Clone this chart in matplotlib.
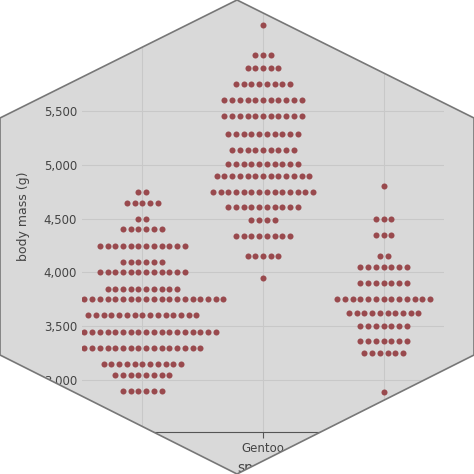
import matplotlib
matplotlib.use("Agg")
import matplotlib.pyplot as plt
from matplotlib.patches import Polygon
import numpy as np

species = ["Adelie", "Gentoo", "Chinstrap"]
# (body mass bin, number of dots) per species
adelie = [(4750, 2), (4650, 5), (4500, 2), (4400, 6), (4250, 12), (4100, 6),
          (4000, 12), (3850, 10), (3750, 22), (3600, 15), (3450, 20),
          (3300, 16), (3150, 11), (3050, 8), (2900, 6)]
gentoo = [(6300, 1), (6025, 3), (5900, 5), (5750, 8), (5600, 11), (5450, 11),
          (5290, 10), (5140, 9), (5010, 10), (4900, 13), (4750, 14),
          (4610, 10), (4490, 4), (4340, 8), (4150, 5), (3950, 1)]
chinstrap = [(4800, 1), (4500, 3), (4350, 3), (4150, 2), (4050, 7), (3900, 7),
             (3750, 13), (3620, 10), (3500, 7), (3360, 7), (3250, 6), (2890, 1)]
yticks = [3000, 3500, 4000, 4500, 5000, 5500]

W = 474
fig = plt.figure(figsize=(4.74, 4.74), dpi=100)
hex_pts = [(237 / W, 1), (1, 1 - 118 / W), (1, 1 - 355 / W), (237 / W, 0),
           (0, 1 - 355 / W), (0, 1 - 118 / W)]
# grey hexagon background behind the axes
fig.patches.append(Polygon(hex_pts, closed=True, transform=fig.transFigure,
                           facecolor="#d9d9d9", edgecolor="none", zorder=-5))

ax = fig.add_axes([82 / W, 42 / W, 362 / W, 432 / W])
ax.patch.set_visible(False)
for s in ["top", "right", "left"]:
    ax.spines[s].set_visible(False)
ax.spines["bottom"].set_color("#555555")

step = 0.064
for i, rows in enumerate([adelie, gentoo, chinstrap]):
    xs, ys = [], []
    for val, n in rows:
        offs = (np.arange(n) - (n - 1) / 2) * step
        xs.extend(i + offs)
        ys.extend([val] * n)
    ax.scatter(xs, ys, s=19, color="#994a4e", linewidths=0, zorder=3)

ax.set_xlim(-0.5, 2.5)
ax.set_ylim(2516, 6533)
ax.set_xticks(range(3))
ax.set_xticklabels(species)
ax.set_yticks(yticks)
ax.set_yticklabels([f"{v:,}" for v in yticks])
ax.tick_params(length=0, colors="#444444", labelsize=8.5)
ax.tick_params(axis="x", length=4, color="#555555")
ax.grid(True, color="#c8c8c8", lw=0.8)
ax.set_axisbelow(True)
ax.set_ylabel("body mass (g)", color="#444444", fontsize=9, labelpad=10)
ax.set_xlabel("species", color="#444444", fontsize=10, labelpad=4)

# white corners mask everything outside the hexagon
t, ur, lr, b, ll, ul = hex_pts
corners = [[(0, 1), t, ul], [(1, 1), t, ur], [(1, 0), b, lr], [(0, 0), b, ll]]
for c in corners:
    fig.patches.append(Polygon(c, closed=True, transform=fig.transFigure,
                               facecolor="white", edgecolor="none", zorder=10))
fig.patches.append(Polygon(hex_pts, closed=True, transform=fig.transFigure,
                           facecolor="none", edgecolor="#777777", lw=1.2,
                           zorder=11))

fig.savefig("out.png", dpi=100)
